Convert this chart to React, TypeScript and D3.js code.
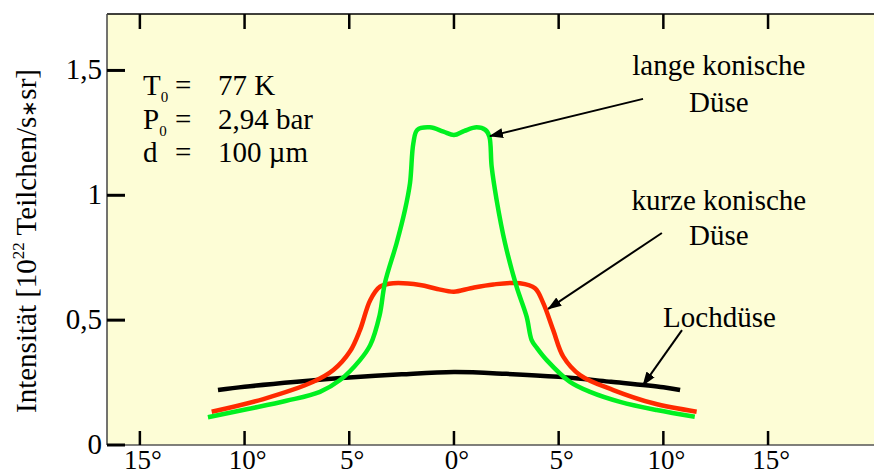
import React from 'react';
import * as d3 from 'd3';

// angle in degrees, intensity in 10^22 Teilchen/(s*sr)
const langeAngle = [-11.75, -9.9, -8.0, -6.4, -5.44, -4.49, -4.0, -3.55, -3.3, -2.74, -2.34, -2.1, -1.94, -1.75, -1.15, -0.5, 0, 0.5, 1.08, 1.5, 1.69, 1.8, 2.04, 2.44, 2.99, 3.47, 3.71, 3.95, 4.43, 5.54, 6.5, 7.93, 9.68, 11.5];
const langeValue = [0.111, 0.143, 0.177, 0.213, 0.26, 0.34, 0.40, 0.52, 0.648, 0.808, 0.941, 1.048, 1.208, 1.262, 1.272, 1.255, 1.241, 1.258, 1.272, 1.262, 1.235, 1.115, 0.98, 0.808, 0.634, 0.514, 0.42, 0.39, 0.34, 0.253, 0.213, 0.173, 0.14, 0.113];

const kurzeAngle = [-11.57, -9.1, -6.72, -5.76, -4.97, -4.49, -4.0, -3.53, -2.9, -1.62, -0.8, 0, 0.8, 1.88, 3.15, 3.87, 4.27, 4.74, 5.22, 6.02, 7.61, 9.52, 11.59];
const kurzeValue = [0.133, 0.184, 0.253, 0.30, 0.374, 0.46, 0.58, 0.634, 0.648, 0.641, 0.625, 0.614, 0.628, 0.643, 0.648, 0.628, 0.567, 0.46, 0.354, 0.28, 0.22, 0.167, 0.133];

const lochAngle = [-11.27, -10, -7.5, -5, -2.5, 0, 2.5, 5, 7.5, 10, 10.8];
const lochValue = [0.22, 0.233, 0.253, 0.27, 0.283, 0.292, 0.285, 0.273, 0.253, 0.231, 0.22];

const xTicks = [-15, -10, -5, 0, 5, 10, 15];
const yTicks = [0, 0.5, 1, 1.5];
const yTickLabels = ['0', '0,5', '1', '1,5'];

// annotation labels: [angle, value] of text and arrow ends
const labelLines = [
    { text: 'lange konische', x: 12.65, y: 1.482 },
    { text: 'Düse', x: 12.65, y: 1.334 },
    { text: 'kurze konische', x: 12.65, y: 0.941 },
    { text: 'Düse', x: 12.65, y: 0.801 },
    { text: 'Lochdüse', x: 12.68, y: 0.471 },
];
const arrows = [
    { x1: 9.03, y1: 1.386, x2: 1.72, y2: 1.237 },
    { x1: 9.93, y1: 0.849, x2: 4.5, y2: 0.545 },
    { x1: 10.89, y1: 0.46, x2: 9.03, y2: 0.24 },
];

const params = [
    { sym: 'T', sub: '0', val: '77 K' },
    { sym: 'P', sub: '0', val: '2,94 bar' },
    { sym: 'd', sub: '', val: '100 µm' },
];

const W = 874;
const H = 475;
const left = 107;
const top = 14;
const bottom = 445;
const font = '"Liberation Serif", "Times New Roman", serif';

export default function App() {
    const x = d3.scaleLinear().domain([-16.57, 20.06]).range([left, W]);
    const y = d3.scaleLinear().domain([0, 1.726]).range([bottom, top]);

    const line = d3.line<[number, number]>()
        .x((d) => x(d[0]))
        .y((d) => y(d[1]))
        .curve(d3.curveCatmullRom.alpha(0.5));

    const series = [
        { a: lochAngle, v: lochValue, color: '#000000' },
        { a: kurzeAngle, v: kurzeValue, color: '#ff2a00' },
        { a: langeAngle, v: langeValue, color: '#00f020' },
    ];

    return (
        <svg width={W} height={H} style={{ position: 'absolute', left: 0, top: 0 }} fontFamily={font}>
            <defs>
                <marker id="head" viewBox="0 0 14 10" refX="13" refY="5" markerWidth="14" markerHeight="10" markerUnits="userSpaceOnUse" orient="auto">
                    <path d="M0,0 L14,5 L0,10 z" fill="#000" />
                </marker>
            </defs>
            <rect x={0} y={0} width={W} height={H} fill="#ffffff" />
            <rect x={left} y={top} width={W - left} height={bottom - top} fill="#fdfdd6" />

            {/* frame */}
            <line x1={left} x2={W} y1={top} y2={top} stroke="#000" strokeWidth={1.5} />
            <line x1={left} x2={left} y1={top} y2={bottom} stroke="#444" strokeWidth={1.5} />
            <line x1={left} x2={W} y1={bottom} y2={bottom} stroke="#555" strokeWidth={1.5} />

            {/* x ticks */}
            {xTicks.map((t) => (
                <g key={t}>
                    <line x1={x(t)} x2={x(t)} y1={bottom} y2={bottom - 14} stroke="#000" strokeWidth={2.5} />
                    <line x1={x(t)} x2={x(t)} y1={top} y2={top + 15} stroke="#000" strokeWidth={2.5} />
                    <text x={x(t) + 3} y={469} textAnchor="middle" fontSize={27}>{Math.abs(t)}°</text>
                </g>
            ))}

            {/* y ticks */}
            {yTicks.map((t, i) => (
                <g key={t}>
                    <line x1={left} x2={left + 18} y1={y(t)} y2={y(t)} stroke="#000" strokeWidth={3} />
                    <text x={102} y={y(t) + 9} textAnchor="end" fontSize={29}>{yTickLabels[i]}</text>
                </g>
            ))}

            {/* y title */}
            <text transform={`translate(36,241) rotate(-90)`} textAnchor="middle" fontSize={29}>
                Intensität [10<tspan fontSize={17} dy={-12}>22</tspan><tspan dy={12}> Teilchen/s</tspan><tspan fontSize={20}>∗</tspan>sr]
            </text>

            {/* curves */}
            {series.map((s, i) => (
                <path key={i} d={line(s.a.map((a, j) => [a, s.v[j]]))!} fill="none" stroke={s.color} strokeWidth={4.5} strokeLinejoin="round" />
            ))}

            {/* parameters */}
            {params.map((p, i) => (
                <g key={i} fontSize={29}>
                    <text x={left + 36} y={95 + i * 33.5}>
                        {p.sym}<tspan fontSize={15} dy={7}>{p.sub}</tspan>
                    </text>
                    <text x={left + 68} y={95 + i * 33.5}>=</text>
                    <text x={left + 111} y={95 + i * 33.5}>{p.val}</text>
                </g>
            ))}

            {/* annotations */}
            {labelLines.map((l, i) => (
                <text key={i} x={x(l.x)} y={y(l.y)} textAnchor="middle" fontSize={29}>{l.text}</text>
            ))}
            {arrows.map((a, i) => (
                <line key={i} x1={x(a.x1)} y1={y(a.y1)} x2={x(a.x2)} y2={y(a.y2)} stroke="#000" strokeWidth={2} markerEnd="url(#head)" />
            ))}
        </svg>
    );
}
